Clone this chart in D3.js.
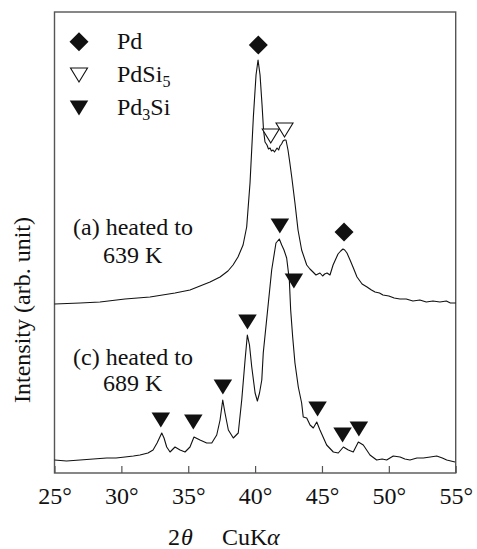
<!DOCTYPE html>
<html>
<head>
<meta charset="utf-8">
<script src="https://cdn.jsdelivr.net/npm/d3@7"></script>
<style>
  html, body { margin: 0; padding: 0; background: #fff; }
  svg { display: block; }
</style>
</head>
<body>
<svg id="chart" width="477" height="549"></svg>
<script>
// ---- data ----
const xTicks = [25, 30, 35, 40, 45, 50, 55];
const xTickLabels = ["25°", "30°", "35°", "40°", "45°", "50°", "55°"];

// curve (a) heated to 639 K : [2theta, intensity]
const curveA_theta = [25.00,26.91,28.40,30.27,32.14,34.01,35.13,35.88,36.63,37.38,37.97,38.35,38.72,39.10,39.37,39.62,39.87,40.07,40.22,40.37,40.52,40.63,40.74,40.89,41.00,41.12,41.22,41.34,41.45,41.64,41.76,41.86,41.98,42.09,42.20,42.31,42.46,42.60,42.74,42.98,43.21,43.48,43.86,44.10,44.33,44.55,44.85,45.05,45.20,45.38,45.60,45.83,46.20,46.40,46.57,46.70,46.87,47.10,47.35,47.62,48.00,48.37,48.70,48.97,49.30,49.56,50.00,50.40,50.83,51.30,51.80,52.32,52.80,53.30,53.82,54.30,54.60,55.00];
const curveA_int   = [169,170,171,174,176,180,183,187,191,196,202,208,216,228,246,290,356,398,413,398,368,343,331,328,324,325,322,323,321,325,323,327,329,332,333,333,323,310,296,270,243,223,208,204,201,198,200,197,199,200,198,208,219,222,224,223,220,213,205,196,189,186,183,181,180,178,177,175,174,174,172,173,171,172,171,172,170,170];

// curve (c) heated to 689 K
const curveC_theta = [25.00,25.90,26.91,27.90,28.90,29.60,30.27,30.90,31.39,31.99,32.37,32.67,33.02,33.19,33.39,33.64,34.01,34.39,34.76,35.13,35.43,35.88,36.38,36.76,37.13,37.38,37.58,37.75,38.00,38.37,38.74,39.00,39.25,39.42,39.58,39.75,40.00,40.17,40.33,40.50,40.61,40.99,41.24,41.56,41.81,41.99,42.16,42.36,42.56,42.66,42.81,42.98,43.23,43.48,43.60,43.86,44.11,44.35,44.61,44.85,45.35,45.85,46.22,46.60,46.97,47.34,47.72,48.09,48.59,49.09,49.50,49.84,50.33,50.84,51.20,51.58,52.10,52.58,53.10,53.58,54.00,54.33,54.95];
const curveC_int   = [13,12,13,14,15,15,16,17,18,20,23,30,40,35,26,21,26,23,21,26,36,33,30,30,38,53,73,60,43,35,40,73,113,138,128,106,80,72,80,93,120,170,203,230,234,228,223,215,193,163,136,110,86,70,56,55,48,45,51,43,28,21,20,26,23,21,31,28,18,13,14,13,17,16,14,13,15,15,16,17,15,13,11];

// phase markers: [2theta, intensity]
const pdMarks     = [[40.24, 428], [46.65, 241]];
const pdSi5Marks  = [[41.17, 337], [42.20, 343]];
const pd3SiMarks  = [[32.95, 53], [35.38, 51], [37.59, 86], [39.43, 151], [41.85, 247], [42.90, 192], [44.67, 64], [46.54, 38], [47.76, 44]];

const legendItems = [
  {sym: "diamond", label: "Pd", sub: null, tail: ""},
  {sym: "open", label: "PdSi", sub: "5", tail: ""},
  {sym: "filled", label: "Pd", sub: "3", tail: "Si"}
];
const annotations = [
  {lines: ["(a) heated to", "639 K"]},
  {lines: ["(c) heated to", "689 K"]}
];

// ---- layout ----
const FONT = '"Liberation Serif", "Times New Roman", Times, serif';
const FS = 24;
const INK = "#111";
const svg = d3.select("#chart").attr("font-family", FONT);
const x = d3.scaleLinear().domain([25, 55]).range([54.5, 455.7]);
const y = d3.scaleLinear().domain([0, 461]).range([473, 12]);

// frame
svg.append("rect")
  .attr("x", x(25)).attr("y", y(461))
  .attr("width", x(55) - x(25)).attr("height", y(0) - y(461))
  .attr("fill", "none").attr("stroke", "#555").attr("stroke-width", 1.4);

// bottom axis ticks (inside)
const xAxis = d3.axisBottom(x).tickValues(xTicks).tickSize(-7).tickPadding(14)
  .tickFormat((d, i) => xTickLabels[i]);
const gx = svg.append("g").attr("transform", `translate(0,${y(0)})`).call(xAxis);
gx.attr("font-family", FONT).attr("font-size", FS);
gx.select(".domain").remove();
gx.selectAll(".tick line").attr("stroke", "#555").attr("stroke-width", 1.2);
gx.selectAll(".tick text")
  .attr("font-family", FONT)
  .attr("font-size", FS).attr("fill", INK).attr("dy", "0.71em");

// curves
const line = d3.line().x(d => x(d[0])).y(d => y(d[1]));
const dataA = curveA_theta.map((t, i) => [t, curveA_int[i]]);
const dataC = curveC_theta.map((t, i) => [t, curveC_int[i]]);
[dataA, dataC].forEach(dd => {
  svg.append("path").datum(dd).attr("d", line)
    .attr("fill", "none").attr("stroke", INK).attr("stroke-width", 1.1)
    .attr("stroke-linejoin", "round");
});

// marker shapes
function triPath(w, h) {
  return `M${-w/2},${-h/2}L${w/2},${-h/2}L0,${h/2}Z`;
}
function diaPath(r) {
  return `M0,${-r}L${r},0L0,${r}L${-r},0Z`;
}
function drawMark(g, type, cx, cy) {
  if (type === "diamond") {
    g.append("path").attr("d", diaPath(9.5)).attr("transform", `translate(${cx},${cy})`).attr("fill", INK);
  } else if (type === "open") {
    g.append("path").attr("d", triPath(17, 14)).attr("transform", `translate(${cx},${cy})`)
      .attr("fill", "#fff").attr("stroke", INK).attr("stroke-width", 1.1);
  } else {
    g.append("path").attr("d", triPath(18.5, 15)).attr("transform", `translate(${cx},${cy})`).attr("fill", INK);
  }
}
const gm = svg.append("g");
pdMarks.forEach(d => drawMark(gm, "diamond", x(d[0]), y(d[1])));
pdSi5Marks.forEach(d => drawMark(gm, "open", x(d[0]), y(d[1])));
pd3SiMarks.forEach(d => drawMark(gm, "filled", x(d[0]), y(d[1])));

// legend
const legY = [41.7, 75, 108];
legendItems.forEach((it, i) => {
  drawMark(svg, it.sym, 79, legY[i]);
  const t = svg.append("text").attr("x", 117).attr("y", legY[i] + 7)
    .attr("font-family", FONT).attr("font-size", FS).attr("fill", INK);
  t.append("tspan").text(it.label);
  if (it.sub) {
    t.append("tspan").text(it.sub).attr("font-size", 16).attr("dy", 5);
    if (it.tail) t.append("tspan").text(it.tail).attr("font-size", FS).attr("dy", -5);
  }
});

// annotations
const annPos = [{x1: 73, x2: 103, y1: 235, y2: 263}, {x1: 73, x2: 103, y1: 365, y2: 391}];
annotations.forEach((a, i) => {
  svg.append("text").attr("x", annPos[i].x1).attr("y", annPos[i].y1)
    .attr("font-family", FONT).attr("font-size", FS).attr("fill", INK).text(a.lines[0]);
  svg.append("text").attr("x", annPos[i].x2).attr("y", annPos[i].y2)
    .attr("font-family", FONT).attr("font-size", FS).attr("fill", INK).text(a.lines[1]);
});

// y axis title
svg.append("text")
  .attr("transform", "translate(30,310) rotate(-90)")
  .attr("text-anchor", "middle")
  .attr("font-family", FONT).attr("font-size", FS).attr("fill", INK)
  .text("Intensity (arb. unit)");

// x axis title
const xt = svg.append("text").attr("y", 545)
  .attr("font-family", FONT).attr("font-size", FS).attr("fill", INK);
xt.append("tspan").attr("x", 168).text("2");
xt.append("tspan").attr("x", 181).attr("font-style", "italic").text("θ");
xt.append("tspan").attr("x", 222).text("CuK");
xt.append("tspan").attr("x", 267).attr("font-style", "italic").text("α");
</script>
</body>
</html>
